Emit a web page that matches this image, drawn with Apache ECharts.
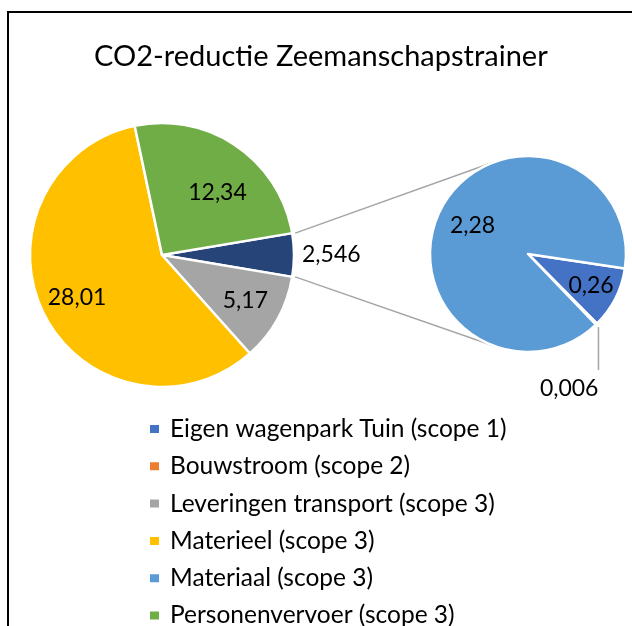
<!DOCTYPE html>
<html>
<head>
<meta charset="utf-8">
<script src="https://cdn.jsdelivr.net/npm/echarts@6/dist/echarts.min.js"></script>
<style>
  html, body { margin: 0; padding: 0; background: #fff; }
  #chart { width: 632px; height: 626px; }
</style>
</head>
<body>
<div id="chart"></div>
<script>
// === Données ===
const titre = "CO2-reductie Zeemanschapstrainer";
const legendeNoms = [
  "Eigen wagenpark Tuin (scope 1)",
  "Bouwstroom (scope 2)",
  "Leveringen transport (scope 3)",
  "Materieel (scope 3)",
  "Materiaal (scope 3)",
  "Personenvervoer (scope 3)"
];
// camembert principal (sans la part "overig")
const hoofdNoms = ["Leveringen transport (scope 3)", "Materieel (scope 3)", "Personenvervoer (scope 3)"];
const hoofdWaarden = [5.17, 28.01, 12.34];
// second camembert (détail de la part "overig")
const subNoms = ["Eigen wagenpark Tuin (scope 1)", "Bouwstroom (scope 2)", "Materiaal (scope 3)"];
const subWaarden = [0.26, 0.006, 2.28];
const overigNaam = "Overig";

// === Styles ===
const kleuren = {
  "Eigen wagenpark Tuin (scope 1)": "#4472C4",
  "Bouwstroom (scope 2)": "#ED7D31",
  "Leveringen transport (scope 3)": "#A5A5A5",
  "Materieel (scope 3)": "#FFC000",
  "Materiaal (scope 3)": "#5B9BD5",
  "Personenvervoer (scope 3)": "#70AD47",
  "Overig": "#264478"
};
const FONT = "Lato";
const hoofd = { cx: 162, cy: 255, r: 132 };
const sub = { cx: 528, cy: 254, r: 98, start: -8.5 };
// facteur radial des labels intérieurs (par index de donnée) + petit décalage
const hoofdLabelK = [1, 1.38, 1.38, 1.3];
const hoofdLabelDx = [0, 0, 0, 5];
const hoofdLabelDy = [0, 0, 0, 12];
const subLabelK = [1.36, 1, 1.2];

const overigWaarde = +subWaarden.reduce((a, b) => a + b, 0).toFixed(3);
const hoofdTotaal = overigWaarde + hoofdWaarden.reduce((a, b) => a + b, 0);
const hoofdStart = 180 * overigWaarde / hoofdTotaal;

const fmt = v => String(v).replace(".", ",");
const rad = d => d * Math.PI / 180;

// déplacer un label intérieur vers l'extérieur
function pousser(p, c, k, dx, dy) {
  const lx = p.labelRect.x + p.labelRect.width / 2;
  const ly = p.labelRect.y + p.labelRect.height / 2;
  return {
    x: c.cx + (lx - c.cx) * k + (dx || 0),
    y: c.cy + (ly - c.cy) * k + (dy || 0),
    align: "center", verticalAlign: "middle"
  };
}

// lignes de liaison : tangentes du bord de la part "overig" vers le second camembert
function liaisons() {
  const lijnen = [];
  [1, -1].forEach(s => {
    const a = rad(hoofdStart) * s;
    const px = hoofd.cx + hoofd.r * Math.cos(a);
    const py = hoofd.cy - hoofd.r * Math.sin(a);
    const dx = px - sub.cx, dy = py - sub.cy;
    const d = Math.sqrt(dx * dx + dy * dy);
    const th = Math.atan2(dy, dx);
    const phi = Math.acos(sub.r / d);
    const t = th + phi * s;
    lijnen.push({
      type: "line",
      z: 1,
      shape: { x1: px + 3, y1: py, x2: sub.cx + sub.r * Math.cos(t), y2: sub.cy + sub.r * Math.sin(t) },
      style: { stroke: "#A5A5A5", lineWidth: 1.5 }
    });
  });
  return lijnen;
}

// pointe de la part Bouwstroom
function puntBouwstroom() {
  const tot = subWaarden.reduce((a, b) => a + b, 0);
  const voor = subWaarden[0] + subWaarden[1] / 2;
  const a = rad(sub.start - voor / tot * 360);
  return [sub.cx + sub.r * Math.cos(a), sub.cy - sub.r * Math.sin(a)];
}

const chart = echarts.init(document.getElementById("chart"));
const option = {
  animation: false,
  backgroundColor: "#fff",
  title: {
    text: titre,
    left: 89,
    top: 37,
    padding: 5,
    textStyle: { fontFamily: FONT, fontSize: 29, fontWeight: "normal", color: "#000" }
  },
  legend: {
    data: legendeNoms,
    orient: "vertical",
    left: 148,
    top: 416.5,
    height: 260,
    padding: 0,
    icon: "rect",
    itemWidth: 11,
    itemHeight: 10,
    itemGap: 12.3,
    selectedMode: false,
    textStyle: { fontFamily: FONT, fontSize: 24.5, lineHeight: 24, color: "#000", padding: [0, 0, 0, 5] }
  },
  graphic: [
    {
      type: "rect",
      z: 0,
      shape: { x: 8, y: 12, width: 800, height: 800 },
      style: { fill: "none", stroke: "#000", lineWidth: 2 }
    },
    ...liaisons()
  ],
  series: [
    {
      type: "pie",
      center: [hoofd.cx, hoofd.cy],
      radius: [0, hoofd.r],
      startAngle: hoofdStart,
      avoidLabelOverlap: false,
      itemStyle: { borderColor: "#fff", borderWidth: 2.5 },
      label: {
        show: true,
        position: "inner",
        formatter: p => fmt(p.value),
        fontFamily: FONT,
        fontSize: 23,
        color: "#000"
      },
      labelLine: { show: false },
      labelLayout: p => {
        if (p.dataIndex === 0) {
          return { x: hoofd.cx + hoofd.r + 8, y: hoofd.cy, align: "left", verticalAlign: "middle" };
        }
        const i = p.dataIndex;
        return pousser(p, hoofd, hoofdLabelK[i], hoofdLabelDx[i], hoofdLabelDy[i]);
      },
      emphasis: { disabled: true },
      data: [{ name: overigNaam, value: overigWaarde }]
        .concat(hoofdNoms.map((n, i) => ({ name: n, value: hoofdWaarden[i] })))
        .map(d => ({ ...d, itemStyle: { color: kleuren[d.name] } }))
    },
    {
      type: "pie",
      center: [sub.cx, sub.cy],
      radius: [0, sub.r],
      startAngle: sub.start,
      avoidLabelOverlap: false,
      itemStyle: { borderColor: "#fff", borderWidth: 2.5 },
      label: {
        show: true,
        position: "inner",
        formatter: p => fmt(p.value),
        fontFamily: FONT,
        fontSize: 23,
        color: "#000"
      },
      labelLine: { show: false },
      labelLayout: p => {
        if (p.dataIndex === 1) {
          const [x, y] = puntBouwstroom();
          return {
            x: x + 2, y: y + 64, align: "right", verticalAlign: "middle",
            labelLinePoints: [[x + 2, y + 3], [x + 2, y + 46], [x + 2, y + 46]]
          };
        }
        return pousser(p, sub, subLabelK[p.dataIndex], 0, 0);
      },
      emphasis: { disabled: true },
      data: subNoms.map((n, i) => ({
        name: n,
        value: subWaarden[i],
        itemStyle: { color: kleuren[n] },
        label: i === 1 ? { position: "outside" } : undefined,
        labelLine: i === 1 ? { show: true, lineStyle: { color: "#A5A5A5", width: 1.5 } } : undefined
      }))
    }
  ]
};
chart.setOption(option);
</script>
</body>
</html>
